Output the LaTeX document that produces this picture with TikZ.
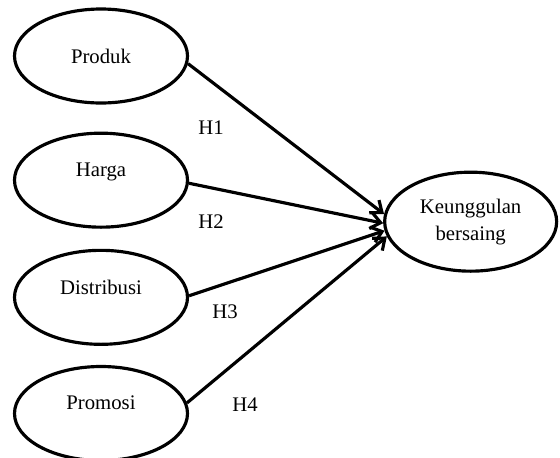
\documentclass[tikz,border=0pt]{standalone}
\usepackage{fontspec}
\setmainfont{Liberation Serif}
\usetikzlibrary{shapes.geometric,positioning,arrows.meta}

\begin{document}
\begin{tikzpicture}[
            >={Straight Barb[length=2mm,width=3.2mm]},
            var/.style={ellipse, draw, line width=1.8pt, align=center,
                        minimum width=34.6mm, minimum height=18.8mm, inner sep=1pt,
                        font=\fontsize{11.8}{15.3}\selectfont},
            lift/.style={text depth=4.2mm},
            hyp/.style={font=\fontsize{11.8}{14}\selectfont, inner sep=1pt},
            link/.style={->, line width=1.8pt}
        ]
            \useasboundingbox (0,0) rectangle (11.2,-9.14);
            \node[var] (produk) at (2.02,-1.12) {Produk};
            \node[var, lift, below=5.4mm of produk] (harga) {Harga};
            \node[var, lift, below=4.0mm of harga] (distribusi) {Distribusi};
            \node[var, lift, below=3.8mm of distribusi] (promosi) {Promosi};
            \node[var, minimum width=34.4mm, minimum height=19.8mm,
                  right=38.8mm of harga, yshift=-8.3mm] (keung) {Keunggulan\\bersaing};

            \draw[link] (produk.-5) -- (keung.175);
            \draw[link] (harga.-2) -- (keung.181);
            \draw[link] (distribusi.1) -- (keung.186);
            \draw[link] (promosi.7) -- (keung.190);

            \node[hyp] (h1) at (4.22,-2.56) {H1};
            \node[hyp] (h2) at (4.22,-4.44) {H2};
            \node[hyp] (h3) at (4.50,-6.24) {H3};
            \node[hyp] (h4) at (4.90,-8.10) {H4};
        \end{tikzpicture}
\end{document}
